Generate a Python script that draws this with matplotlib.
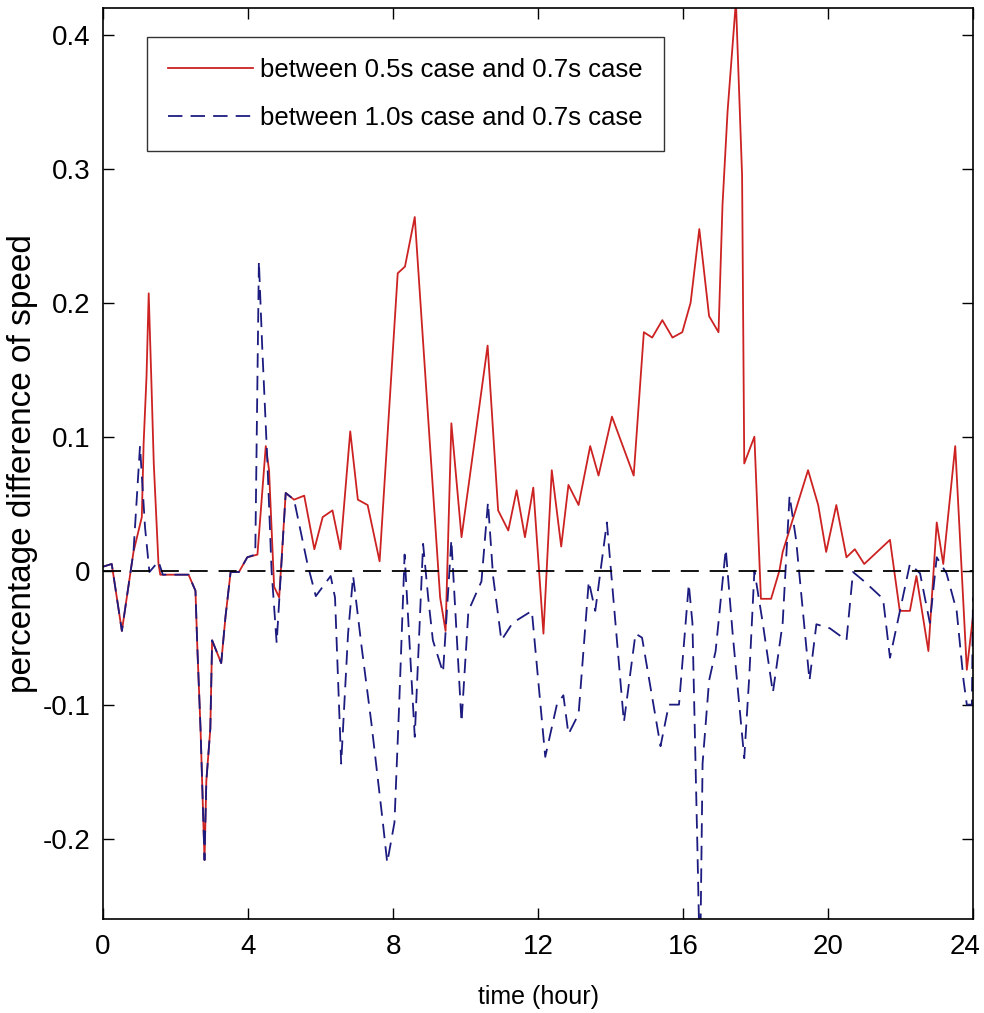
import matplotlib
matplotlib.use("Agg")
import matplotlib.pyplot as plt
from matplotlib.transforms import ScaledTranslation

plt.rcParams["font.family"] = ["Liberation Sans", "DejaVu Sans"]

# time (hour) and percentage difference
red_t = [0, 0.24, 0.52, 0.84, 1.07, 1.12, 1.2, 1.26, 1.33, 1.4, 1.53, 1.58,
         2.36, 2.55, 2.6, 2.69, 2.8, 2.85, 2.96, 3.01, 3.26, 3.38, 3.52, 3.75,
         3.98, 4.26, 4.49, 4.58, 4.72, 4.86, 5.04, 5.27, 5.55, 5.83, 6.06, 6.33,
         6.55, 6.82, 7.03, 7.3, 7.63, 8.13, 8.33, 8.6, 9.3, 9.45, 9.61, 9.89,
         10.61, 10.9, 11.18, 11.41, 11.64, 11.87, 12.15, 12.38, 12.64, 12.84,
         13.12, 13.44, 13.67, 14.04, 14.64, 14.92, 15.15, 15.43, 15.71, 15.98,
         16.21, 16.45, 16.72, 16.98, 17.09, 17.23, 17.46, 17.63, 17.69, 17.97,
         18.15, 18.43, 18.66, 18.75, 19.45, 19.73, 19.95, 20.23, 20.51, 20.74,
         21.0, 21.71, 21.98, 22.26, 22.44, 22.77, 23.0, 23.18, 23.51, 23.83, 24.0]
red_v = [0.003, 0.005, -0.045, 0.014, 0.04, 0.095, 0.145, 0.207, 0.145, 0.08,
         0.005, -0.003, -0.003, -0.015, -0.056, -0.118, -0.216, -0.157, -0.118,
         -0.052, -0.069, -0.034, -0.001, -0.001, 0.01, 0.012, 0.093, 0.075,
         -0.012, -0.02, 0.058, 0.053, 0.056, 0.016, 0.04, 0.045, 0.016, 0.104,
         0.053, 0.049, 0.007, 0.222, 0.227, 0.264, -0.02, -0.045, 0.11, 0.025,
         0.168, 0.045, 0.03, 0.06, 0.025, 0.062, -0.047, 0.075, 0.018, 0.064,
         0.049, 0.093, 0.071, 0.115, 0.071, 0.178, 0.174, 0.187, 0.174, 0.178,
         0.2, 0.255, 0.19, 0.178, 0.273, 0.343, 0.425, 0.295, 0.08, 0.1,
         -0.021, -0.021, 0.0, 0.014, 0.075, 0.049, 0.014, 0.049, 0.01, 0.016,
         0.005, 0.023, -0.03, -0.03, -0.004, -0.06, 0.036, 0.005, 0.093, -0.074,
         -0.034]

blue_t = [0, 0.24, 0.52, 0.84, 1.02, 1.16, 1.28, 1.53, 1.65, 2.36, 2.55, 2.6,
          2.69, 2.8, 2.85, 2.96, 3.01, 3.26, 3.38, 3.52, 3.75, 3.98, 4.2, 4.3,
          4.39, 4.53, 4.65, 4.79, 5.04, 5.27, 5.64, 5.87, 6.28, 6.4, 6.57, 6.76,
          6.9, 7.13, 7.4, 7.72, 7.84, 8.04, 8.17, 8.32, 8.6, 8.83, 8.97, 9.1,
          9.38, 9.61, 9.89, 10.08, 10.44, 10.62, 10.76, 10.99, 11.3, 11.83, 12.2,
          12.52, 12.7, 12.84, 13.12, 13.4, 13.58, 13.9, 14.37, 14.69, 14.87,
          15.38, 15.61, 15.89, 16.16, 16.26, 16.4, 16.47, 16.54, 16.72, 16.9,
          17.18, 17.37, 17.69, 17.83, 17.97, 18.2, 18.48, 18.75, 18.94, 19.12,
          19.49, 19.68, 20.05, 20.51, 20.69, 21.0, 21.52, 21.71, 22.26, 22.54,
          22.81, 23.0, 23.27, 23.55, 23.74, 23.83, 23.97, 24.0]
blue_v = [0.003, 0.005, -0.045, 0.014, 0.093, 0.032, -0.001, 0.007, -0.003,
          -0.003, -0.015, -0.056, -0.118, -0.216, -0.157, -0.118, -0.052,
          -0.069, -0.034, -0.001, -0.001, 0.01, 0.012, 0.231, 0.168, 0.084, 0.0,
          -0.054, 0.058, 0.053, 0.005, -0.019, -0.004, -0.02, -0.144, -0.047,
          -0.004, -0.056, -0.113, -0.188, -0.218, -0.188, -0.1, 0.012, -0.124,
          0.02, -0.02, -0.052, -0.076, 0.023, -0.113, -0.03, -0.008, 0.051,
          -0.004, -0.052, -0.039, -0.03, -0.139, -0.1, -0.093, -0.122, -0.107,
          -0.008, -0.03, 0.036, -0.113, -0.047, -0.05, -0.131, -0.1, -0.1,
          -0.01, -0.039, -0.21, -0.3, -0.144, -0.082, -0.06, 0.016, -0.047,
          -0.14, -0.078, 0.0, -0.039, -0.091, -0.039, 0.056, 0.023, -0.082,
          -0.04, -0.043, -0.052, -0.001, -0.008, -0.021, -0.065, 0.005, -0.002,
          -0.039, 0.01, -0.002, -0.03, -0.082, -0.1, -0.1, -0.02]

xticks = [0, 4, 8, 12, 16, 20, 24]
yticks = [-0.2, -0.1, 0, 0.1, 0.2, 0.3, 0.4]
ytick_labels = ["-0.2", "-0.1", "0", "0.1", "0.2", "0.3", "0.4"]

fig = plt.figure(figsize=(9.84, 10.13), dpi=100)
ax = fig.add_axes([0.1047, 0.0928, 0.8841, 0.8993])

ax.plot(red_t, red_v, color="#cc2222", lw=1.3,
        label="between 0.5s case and 0.7s case")
ax.plot(blue_t, blue_v, color="#1c1c80", lw=1.3, dashes=(8, 4.5),
        label="between 1.0s case and 0.7s case")
ax.axhline(0, color="black", lw=1.3, dashes=(10, 6))

ax.set_xlim(0, 24)
ax.set_ylim(-0.26, 0.42)
ax.set_xticks(xticks)
ax.set_yticks(yticks)
ax.set_yticklabels(ytick_labels)
ax.tick_params(direction="in", length=8, top=True, right=True,
               labelsize=20, width=1)
ax.tick_params(axis="x", pad=11)
ax.tick_params(axis="y", pad=9)
for s in ax.spines.values():
    s.set_linewidth(1.2)

# keep the last hour label inside the canvas
last = ax.get_xticklabels()[-1]
last.set_transform(last.get_transform() +
                   ScaledTranslation(-6 / 72, 0, fig.dpi_scale_trans))

ax.set_xlabel("time (hour)", fontsize=18, labelpad=18)
ax.set_ylabel("percentage difference of speed", fontsize=24, labelpad=3)

leg = ax.legend(loc="upper left", bbox_to_anchor=(0.051, 0.968), fontsize=18.5,
                frameon=True, fancybox=False, edgecolor="black",
                handlelength=3.3, handletextpad=0.3, borderpad=0.8,
                labelspacing=0.95, borderaxespad=0)
leg.get_frame().set_linewidth(1.0)

fig.savefig("out.png", dpi=100)
